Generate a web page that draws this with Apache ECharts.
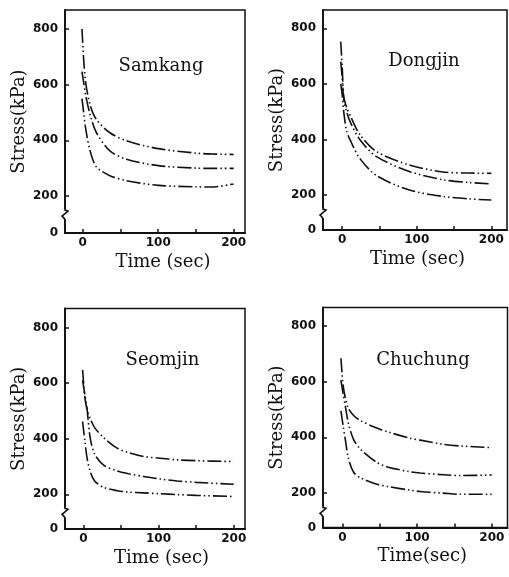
<!DOCTYPE html>
<html><head><meta charset="utf-8">
<script src="https://cdn.jsdelivr.net/npm/echarts@6/dist/echarts.min.js"></script>
<style>html,body{margin:0;padding:0;background:#fff}#c{width:509px;height:577px}</style>
</head><body><div id="c"></div>
<script>
// ---- data ----
const panelNames = ['Samkang', 'Dongjin', 'Seomjin', 'Chuchung'];
const xAxisNames = ['Time (sec)', 'Time (sec)', 'Time (sec)', 'Time(sec)'];
const yAxisName = 'Stress(kPa)';
const yTickValues = [200, 400, 600, 800];
const xLabelValues = [0, 100, 200];
const xTickValues = [0, 50, 100, 150, 200];
const yZeroLabel = '0';

const samkangTime   = [-1, 1, 4, 10, 18, 36, 58, 100, 150, 170, 200];
const samkangUpper  = [800, 700, 605, 525, 475, 427, 398, 370, 354, 351, 349];
const samkangMiddle = [647, 611, 560, 490, 428, 362, 332, 309, 300, 299, 299];
const samkangLower  = [550, 505, 440, 360, 305, 273, 255, 238, 233, 232, 243];

const dongjinTime   = [-2, 0, 2, 6, 12, 24, 46, 90, 135, 170, 200];
const dongjinUpper  = [752, 660, 555, 515, 478, 416, 356, 308, 283, 279, 278];
const dongjinMiddle = [680, 620, 545, 498, 455, 398, 338, 285, 255, 245, 240];
const dongjinLower  = [600, 560, 500, 430, 390, 330, 270, 218, 195, 186, 182];

const seomjinTime   = [-1, 2, 5, 9, 15, 27, 45, 60, 80, 102, 125, 150, 200];
const seomjinUpper  = [648, 548, 505, 474, 440, 404, 366, 350, 336, 330, 324, 321, 318];
const seomjinMiddle = [610, 560, 505, 405, 345, 305, 284, 274, 264, 255, 248, 243, 236];
const seomjinLower  = [462, 392, 330, 283, 248, 225, 213, 208, 205, 202, 199, 196, 192];

const chuchungTime   = [-2, 1, 4, 8, 15, 24, 46, 60, 90, 104, 135, 158, 200];
const chuchungUpper  = [683, 585, 540, 504, 478, 460, 433, 420, 397, 390, 375, 369, 363];
const chuchungMiddle = [605, 555, 510, 450, 392, 358, 310, 294, 277, 272, 266, 263, 265];
const chuchungLower  = [495, 440, 390, 325, 275, 255, 232, 224, 211, 206, 200, 196, 196];

const panelData = [
  [samkangTime, [samkangUpper, samkangMiddle, samkangLower]],
  [dongjinTime, [dongjinUpper, dongjinMiddle, dongjinLower]],
  [seomjinTime, [seomjinUpper, seomjinMiddle, seomjinLower]],
  [chuchungTime, [chuchungUpper, chuchungMiddle, chuchungLower]]
];

// ---- layout ----
const grids = [
  {left: 65, top: 10, width: 180, height: 223},
  {left: 323, top: 10, width: 184, height: 220},
  {left: 65, top: 308.5, width: 180, height: 220.5},
  {left: 323, top: 307.5, width: 184.5, height: 220}
];
const xRanges = [[-23.5, 215], [-25.8, 221], [-24.4, 215], [-26, 221]];
const yRanges = [[67, 868], [74, 866], [75, 869], [77, 865]];
const titlePos = [[156, 63], [419, 58], [157.5, 357], [418, 357]];
const xNameShift = [16, 5, 13, 14];

const serif = 'DejaVu Serif';
const sans = 'DejaVu Sans';
const black = '#111';

const option = {
  animation: false,
  backgroundColor: '#fff',
  title: panelNames.map((n, i) => ({
    text: n, left: titlePos[i][0], top: titlePos[i][1] - 11, textAlign: 'center',
    textStyle: {fontFamily: serif, fontSize: 18, fontWeight: 'normal', color: black}
  })),
  grid: grids.map(g => Object.assign({show: true, borderColor: black, borderWidth: 1.5, backgroundColor: 'transparent'}, g)),
  xAxis: grids.map((g, i) => ({
    type: 'value', gridIndex: i, min: xRanges[i][0], max: xRanges[i][1],
    name: xAxisNames[i], nameLocation: 'middle', nameGap: 20,
    nameTextStyle: {fontFamily: serif, fontSize: 18, color: black, padding: [0, 0, 0, xNameShift[i]]},
    splitLine: {show: false},
    axisLine: {show: true, onZero: false, lineStyle: {color: black, width: 1.8}},
    axisTick: {show: true, inside: true, length: 4, customValues: xTickValues, lineStyle: {color: black, width: 1.5}},
    axisLabel: {customValues: xLabelValues, margin: 4, fontFamily: sans, fontWeight: 'bold', fontSize: 12, color: black}
  })),
  yAxis: grids.map((g, i) => ({
    type: 'value', gridIndex: i, min: yRanges[i][0], max: yRanges[i][1],
    name: yAxisName, nameLocation: 'middle', nameGap: 37, nameRotate: 90,
    nameTextStyle: {fontFamily: serif, fontSize: 18, color: black},
    splitLine: {show: false},
    axisLine: {show: true, onZero: false, lineStyle: {color: black, width: 1.8}},
    axisTick: {show: true, inside: true, length: 4, customValues: yTickValues, lineStyle: {color: black, width: 1.5}},
    axisLabel: {
      customValues: [yRanges[i][0]].concat(yTickValues), margin: 7,
      fontFamily: sans, fontWeight: 'bold', fontSize: 12, color: black,
      formatter: v => (Math.abs(v - yRanges[i][0]) < 1e-6 ? yZeroLabel : String(v))
    }
  })),
  series: []
};

panelData.forEach((pd, i) => {
  const t = pd[0];
  pd[1].forEach(vals => {
    option.series.push({
      type: 'line', xAxisIndex: i, yAxisIndex: i,
      data: t.map((x, k) => [x, vals[k]]),
      smooth: 0.3, showSymbol: false,
      lineStyle: {color: black, width: 1.6, type: [14, 3, 1.5, 3, 1.5, 3]}
    });
  });
});

const chart = echarts.init(document.getElementById('c'), null, {renderer: 'canvas'});
chart.setOption(option);

// axis break marks on each y axis
const graphics = [];
grids.forEach((g, i) => {
  const p = chart.convertToPixel({xAxisIndex: i, yAxisIndex: i}, [xRanges[i][0], 135]);
  const x = p[0], y = p[1];
  graphics.push({type: 'rect', shape: {x: x - 2, y: y - 5, width: 4, height: 10}, style: {fill: '#fff'}, z: 100});
  graphics.push({type: 'polyline', shape: {points: [[x, y - 6], [x, y - 4], [x + 3, y - 3], [x - 3, y + 2], [x - 1, y + 4], [x, y + 6]]},
    style: {stroke: black, lineWidth: 1.6, fill: null}, z: 101});
});
chart.setOption({graphic: graphics});
</script>
</body></html>
